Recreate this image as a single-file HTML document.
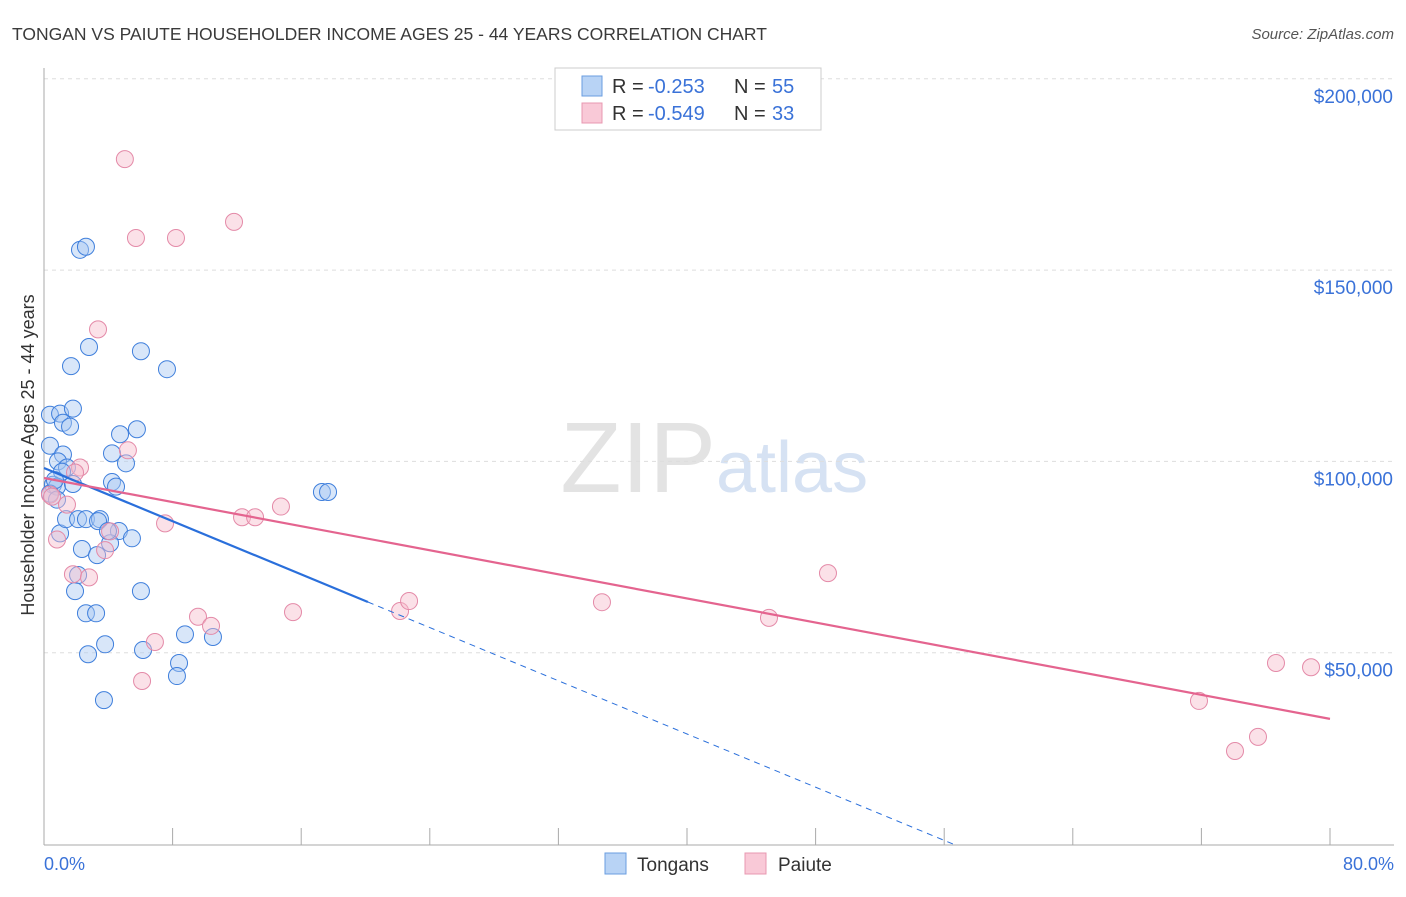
<!DOCTYPE html>
<html><head><meta charset="utf-8"><style>
body{margin:0;background:#fff;font-family:"Liberation Sans",sans-serif;}
svg text{font-family:"Liberation Sans",sans-serif;}
</style></head><body>
<svg id="chart" width="1406" height="892">
<text x="12" y="40" font-size="17.5" fill="#3a3a3a">TONGAN VS PAIUTE HOUSEHOLDER INCOME AGES 25 - 44 YEARS CORRELATION CHART</text>
<text x="1394" y="39" font-size="15" fill="#555" font-style="italic" text-anchor="end">Source: ZipAtlas.com</text>
<text x="716" y="492" font-size="100" fill="#e3e3e3" text-anchor="end" font-family="Liberation Serif">ZIP</text>
<text x="716" y="492" font-size="72" fill="#d6e2f3">atlas</text>
<g id="grid"></g><g id="axes"></g><g id="pts"></g><g id="lines"></g>
<text transform="translate(34,455) rotate(-90)" font-size="18" fill="#333" text-anchor="middle">Householder Income Ages 25 - 44 years</text>
<text x="44" y="870" font-size="18" fill="#3a72d8">0.0%</text>
<text x="1394" y="870" font-size="18" fill="#3a72d8" text-anchor="end">80.0%</text>
<g>
<rect x="555" y="68" width="266" height="62" fill="#fff" stroke="#ccc"/>
<rect x="582" y="76" width="20" height="20" fill="#b8d3f5" stroke="#6a9ee0"/>
<rect x="582" y="103" width="20" height="20" fill="#f9c9d7" stroke="#e898b0"/>
<text x="612" y="93" font-size="20" fill="#333">R =</text>
<text x="648" y="93" font-size="20" fill="#3a72d8">-0.253</text>
<text x="734" y="93" font-size="20" fill="#333">N =</text>
<text x="772" y="93" font-size="20" fill="#3a72d8">55</text>
<text x="612" y="120" font-size="20" fill="#333">R =</text>
<text x="648" y="120" font-size="20" fill="#3a72d8">-0.549</text>
<text x="734" y="120" font-size="20" fill="#333">N =</text>
<text x="772" y="120" font-size="20" fill="#3a72d8">33</text>
</g>
<g>
<rect x="605" y="853" width="21" height="21" fill="#b8d3f5" stroke="#6a9ee0"/>
<text x="637" y="871" font-size="19" fill="#333">Tongans</text>
<rect x="745" y="853" width="21" height="21" fill="#f9c9d7" stroke="#e898b0"/>
<text x="778" y="871" font-size="19" fill="#333">Paiute</text>
</g>
</svg>
<script>
const yTicks=[50000,100000,150000,200000];
const yTickLabels=["$50,000","$100,000","$150,000","$200,000"];
const xTicks=[0,8,16,24,32,40,48,56,64,72,80];
const tonganX=[0.37,1.0,1.8,1.18,1.62,0.37,1.18,0.87,1.43,1.12,0.56,0.81,0.37,0.81,1.8,1.0,1.37,2.12,2.61,3.48,3.36,4.66,5.47,4.11,2.36,3.3,2.12,1.93,6.03,2.61,3.24,3.8,6.16,8.77,10.51,2.74,8.4,8.27,3.73,2.24,2.61,1.68,2.8,6.03,7.65,4.73,5.78,4.23,5.1,4.23,4.48,17.29,17.67,0.68,3.98];
const tonganY=[112200,112500,113800,110100,109100,104100,101800,100000,98400,97300,93900,93400,91600,90000,94100,81200,84900,84900,84900,84900,84400,81800,79900,78600,77100,75500,70300,66100,66100,60300,60300,52200,50700,54800,54100,49600,47300,43900,37600,155300,156100,124900,129900,128800,124100,107100,108400,102100,99500,94600,93400,92000,92000,95100,81800];
const paiuteX=[5.03,5.72,8.21,11.82,3.36,5.22,2.24,1.93,0.37,0.5,1.43,0.81,1.8,2.8,3.8,4.11,7.53,12.32,13.13,14.74,9.58,10.39,15.49,6.9,6.1,22.15,22.71,34.71,45.1,48.77,71.85,76.64,78.82,74.09,75.52];
const paiuteY=[179000,158400,158400,162600,134500,102900,98400,97100,91300,90800,88700,79600,70500,69700,76800,81700,83800,85400,85400,88200,59400,57000,60600,52800,42600,60900,63500,63200,59100,70800,37400,47300,46200,24300,28000];
const trendIntercept=[98275,95661];
const trendSlope=[-1738,-787];
const solidEnd=[20.15,80];
const X=v=>44+v/80*1286, Y=v=>844-v/50000*191.3;
const NS="http://www.w3.org/2000/svg";
function mk(tag,attrs,parent){const e=document.createElementNS(NS,tag);for(const k in attrs)e.setAttribute(k,attrs[k]);document.getElementById(parent).appendChild(e);return e;}
yTicks.forEach((t,i)=>{
 const l=mk('line',{x1:44,x2:1394,y1:Y(t),y2:Y(t),stroke:'#ddd','stroke-dasharray':'4,4'},'grid');
 
 
 const tx=mk('text',{x:1393,y:Y(t)+24,'font-size':19,fill:'#3a72d8','text-anchor':'end'},'grid');
 tx.textContent=yTickLabels[i];
 
 
});
const ax=mk('line',{x1:44,x2:44,y1:68,y2:845,stroke:'#aaa'},'axes');


const bx=mk('line',{x1:44,x2:1394,y1:845,y2:845,stroke:'#aaa'},'axes');


xTicks.forEach(t=>{const l=mk('line',{x1:X(t),x2:X(t),y1:828,y2:845,stroke:'#aaa'},'axes');
 
 });
function pts(xs,ys,fill,stroke,name){xs.forEach((x,i)=>{const c=mk('circle',{cx:X(x),cy:Y(ys[i]),r:8.5,fill:fill,'fill-opacity':0.45,stroke:stroke,'stroke-width':1},'pts');
 
 });}
pts(tonganX,tonganY,'#a9c8f2','#3f7fdc','tongan-point');
pts(paiuteX,paiuteY,'#f7bccd','#e48aa8','paiute-point');
const colors=['#2a6fdb','#e4648f'];
[0,1].forEach(i=>{
 const f=x=>trendIntercept[i]+trendSlope[i]*x;
 const s=mk('line',{x1:X(0),y1:Y(f(0)),x2:X(solidEnd[i]),y2:Y(f(solidEnd[i])),stroke:colors[i],'stroke-width':2.2},'lines');
 
 
 if(i===0){const xe=-trendIntercept[0]/trendSlope[0];
  const d=mk('line',{x1:X(solidEnd[0]),y1:Y(f(solidEnd[0])),x2:X(xe),y2:Y(0),stroke:colors[0],'stroke-width':1,'stroke-dasharray':'6,5'},'lines');
  
  }
});
</script>
</body></html>
